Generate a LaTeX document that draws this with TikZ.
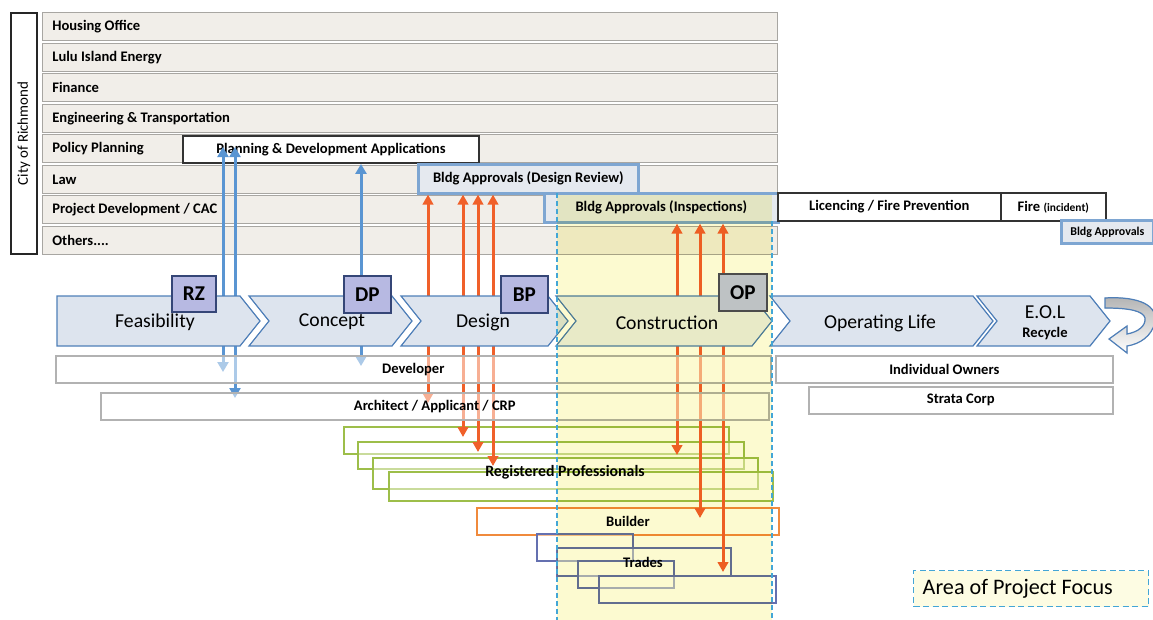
\documentclass[tikz,border=0pt]{standalone}
\usepackage{fontspec}
\setmainfont{Carlito}
\usetikzlibrary{arrows.meta}

\definecolor{deptfill}{HTML}{F1EEE9}
\definecolor{deptline}{HTML}{A8A6A2}
\definecolor{phasefill}{HTML}{DDE4EE}
\definecolor{phaseline}{HTML}{4F7FB8}
\definecolor{permfill}{HTML}{B7B9E2}
\definecolor{permline}{HTML}{354677}
\definecolor{opfill}{HTML}{BEC2C4}
\definecolor{apprline}{HTML}{7EA6D2}
\definecolor{apprfill}{HTML}{E5E9EF}
\definecolor{rpgreen}{HTML}{9DBE4A}
\definecolor{bldorange}{HTML}{F08A3C}
\definecolor{tradeblue}{HTML}{6470B0}
\definecolor{arrorange}{HTML}{F0602A}
\definecolor{arrblue}{HTML}{5A95D2}
\definecolor{focusyellow}{HTML}{FCFAD0}
\definecolor{focusline}{HTML}{43A6D6}

\begin{document}
\begin{tikzpicture}[x=0.2mm, y=-0.2mm,
    small/.style={font=\fontsize{8.3}{10}\selectfont\bfseries},
    tag/.style={anchor=north west, inner sep=0pt, align=center},
    dept/.style={small, anchor=north west, draw=deptline, fill=deptfill, minimum height=28*0.2mm, text width=143mm, inner xsep=2mm, inner ysep=0pt, align=flush left},
    plainbox/.style={tag, small, draw=black!80, fill=white, line width=1.1pt},
    apprbox/.style={tag, small, draw=apprline, fill=apprfill, line width=1.5pt},
    partybox/.style={tag, small, draw=gray!60, fill=white, fill opacity=0.5, text opacity=1, line width=0.9pt},
    rpbox/.style={tag, draw=rpgreen, fill=white, fill opacity=0.45, line width=1.1pt},
    tradebox/.style={tag, draw=tradeblue, fill=white, fill opacity=0.45, line width=0.9pt},
    phase/.style={draw=phaseline, fill=phasefill, line width=0.7pt},
    phasetext/.style={font=\fontsize{11.2}{12}\selectfont},
    permit/.style={tag, draw=permline, fill=permfill, line width=1pt, font=\fontsize{12}{14}\selectfont\bfseries},
    barrow/.style={draw=arrblue, line width=0.6mm, >={Triangle[width=2.2mm,length=2mm]}, <->},
    oarrow/.style={draw=arrorange, line width=0.6mm, >={Triangle[width=2.1mm,length=2mm]}, <->},
]
\useasboundingbox (0,0) rectangle (1153,620);

\def\yct{296}; % phase top
\def\ycm{321}; % phase middle
\def\ycb{346}; % phase bottom

% city departments
\node[draw=black!85, line width=1.6pt, rotate=90, minimum width=241*0.2mm, minimum height=26*0.2mm, font=\fontsize{8.5}{10}\selectfont] (city) at (24,133.5) {City of Richmond};

\node[dept] (ho) at (42,12) {Housing Office};
\node[dept] (lie) at (42,43) {Lulu Island Energy};
\node[dept] (fin) at (42,73) {Finance};
\node[dept] (eng) at (42,104) {Engineering \& Transportation};
\node[dept] (pol) at (42,134) {Policy Planning};
\node[dept] (law) at (42,165) {Law};
\node[dept] (pdc) at (42,195) {Project Development / CAC};
\node[dept] (oth) at (42,226) {Others....};

% professionals, builder, trades
\node[rpbox, minimum width=385*0.2mm, minimum height=27*0.2mm] (rp1) at (343,426) {};
\node[rpbox, minimum width=386*0.2mm, minimum height=27*0.2mm] (rp2) at (357,441) {};
\node[rpbox, minimum width=385*0.2mm, minimum height=31*0.2mm] (rp3) at (372,457) {};
\node[rpbox, minimum width=384*0.2mm, minimum height=29*0.2mm] (rp4) at (388,471) {};

\node[tag, small, draw=bldorange, fill=white, line width=1.1pt, minimum width=302*0.2mm, minimum height=27*0.2mm] (bld) at (476,507) {Builder};

\node[tradebox, minimum width=96*0.2mm, minimum height=27*0.2mm] (tr1) at (536,533) {};
\node[tradebox, minimum width=174*0.2mm, minimum height=28*0.2mm] (tr2) at (556,547) {};
\node[tradebox, minimum width=96*0.2mm, minimum height=27*0.2mm] (tr3) at (577,560) {};
\node[tradebox, minimum width=177*0.2mm, minimum height=27*0.2mm] (tr4) at (598,575) {};

% applications and approvals
\node[plainbox, minimum width=296*0.2mm, minimum height=27*0.2mm] (pda) at (182,135) {Planning \& Development Applications};
\node[apprbox, minimum width=220*0.2mm, minimum height=29*0.2mm] (bdr) at (417,163) {Bldg Approvals (Design Review)};
\node[apprbox, minimum width=234*0.2mm, minimum height=29*0.2mm] (bins) at (543,192) {Bldg Approvals (Inspections)};
\node[plainbox, line width=0.9pt, minimum width=223*0.2mm, minimum height=28*0.2mm] (lic) at (777,192) {Licencing / Fire Prevention};
\node[plainbox, line width=0.9pt, minimum width=105*0.2mm, minimum height=28*0.2mm] (fire) at (1000,192) {Fire {\fontsize{6.5}{8}\selectfont(incident)}};
\node[apprbox, font=\fontsize{6.8}{8}\selectfont\bfseries, minimum width=92*0.2mm, minimum height=23*0.2mm] (bsm) at (1060,219) {Bldg Approvals};

% arrows
\coordinate (a1t) at (223,147);
\coordinate (a1b) at (223,372);
\coordinate (a2t) at (235,147);
\coordinate (a2b) at (235,398);
\coordinate (a3b) at (361,366);
\draw[barrow] (a1t) -- (a1b);
\draw[barrow] (a2t) -- (a2b);
\draw[barrow] (pda.south -| a3b) -- (a3b);

\coordinate (o1b) at (428,403);
\coordinate (o2b) at (463,437);
\coordinate (o3b) at (478,452);
\coordinate (o4b) at (493,466);
\coordinate (o5b) at (677,455);
\coordinate (o6b) at (700,518);
\coordinate (o7b) at (723,572);
\draw[oarrow] (bdr.south -| o1b) -- (o1b);
\draw[oarrow] (bdr.south -| o2b) -- (o2b);
\draw[oarrow] (bdr.south -| o3b) -- (o3b);
\draw[oarrow] (bdr.south -| o4b) -- (o4b);
\draw[oarrow] (bins.south -| o5b) -- (o5b);
\draw[oarrow] (bins.south -| o6b) -- (o6b);
\draw[oarrow] (bins.south -| o7b) -- (o7b);

% phases
\filldraw[phase] (57,\yct) -- (240,\yct) -- (260,\ycm) -- (240,\ycb) -- (57,\ycb) -- cycle;
\filldraw[phase] (249,\yct) -- (392,\yct) -- (412,\ycm) -- (392,\ycb) -- (249,\ycb) -- (269,\ycm) -- cycle;
\filldraw[phase] (401,\yct) -- (548,\yct) -- (568,\ycm) -- (548,\ycb) -- (401,\ycb) -- (421,\ycm) -- cycle;
\filldraw[phase, fill=phasefill!60] (556,\yct) -- (752,\yct) -- (772,\ycm) -- (752,\ycb) -- (556,\ycb) -- (576,\ycm) -- cycle;
\filldraw[phase] (770,\yct) -- (973,\yct) -- (993,\ycm) -- (973,\ycb) -- (770,\ycb) -- (790,\ycm) -- cycle;
\filldraw[phase] (977,\yct) -- (1090,\yct) -- (1110,\ycm) -- (1090,\ycb) -- (977,\ycb) -- (997,\ycm) -- cycle;

\node[phasetext] (feas) at (155,322) {Feasibility};
\node[phasetext] (conc) at (332,322) {Concept};
\node[phasetext] (desg) at (483,322) {Design};
\node[phasetext] (cons) at (667,323) {Construction};
\node[phasetext] (oplf) at (880,323) {Operating Life};
\node[phasetext, align=center, inner sep=0pt] (eol) at (1045,323) {E.O.L\\[-1pt]{\fontsize{8.3}{10}\selectfont\bfseries Recycle}};

\node[permit, minimum width=44*0.2mm, minimum height=36*0.2mm] (rz) at (171,275) {RZ};
\node[permit, minimum width=47*0.2mm, minimum height=37*0.2mm] (dp) at (343,275) {DP};
\node[permit, minimum width=47*0.2mm, minimum height=37*0.2mm] (bp) at (500,275) {BP};

% parties
\node[partybox, minimum width=715*0.2mm, minimum height=27*0.2mm] (dev) at (55,355) {Developer};
\node[partybox, minimum width=668*0.2mm, minimum height=27*0.2mm] (arch) at (100,392) {Architect / Applicant / CRP};
\node[partybox, minimum width=337*0.2mm, minimum height=27*0.2mm] (own) at (775,355) {Individual Owners};
\node[partybox, minimum width=304*0.2mm, minimum height=27*0.2mm] (strata) at (808,386) {Strata Corp};

\node[font=\fontsize{9}{10}\selectfont\bfseries] (rpt) at (565,472) {Registered Professionals};
\node[small] (trt) at (643,562) {Trades};

% area of project focus
\begin{scope}[blend mode=multiply]
\fill[focusyellow] (557,195) rectangle (772,620);
\end{scope}
\draw[focusline, line width=0.8pt, dash pattern=on 1mm off 0.6mm] (557,193) -- (557,620);
\draw[focusline, line width=0.8pt, dash pattern=on 1mm off 0.6mm] (772,221) -- (772,620);

\node[permit, fill=opfill, draw=black!70, minimum width=48*0.2mm, minimum height=37*0.2mm] (op) at (718,273) {OP};

\node[anchor=north west, draw=focusline, fill=focusyellow!60, line width=0.8pt, dash pattern=on 1.2mm off 0.7mm, minimum height=36*0.2mm, text width=43.4mm, inner xsep=1.8mm, inner ysep=0pt, align=flush left, font=\fontsize{12.6}{14}\selectfont] (focus) at (913,570) {Area of Project Focus};

% recycle loop
\filldraw[draw=phaseline, line width=0.7pt, top color=gray!60, bottom color=white]
  (1105,298) .. controls (1140,296) and (1158,306) .. (1155,322)
  .. controls (1152,336) and (1140,344) .. (1127,346)
  -- (1127,353) -- (1109,339) -- (1127,326) -- (1127,334)
  .. controls (1138,332) and (1146,326) .. (1145,318)
  .. controls (1143,311) and (1130,308) .. (1105,308) -- cycle;

\end{tikzpicture}
\end{document}
